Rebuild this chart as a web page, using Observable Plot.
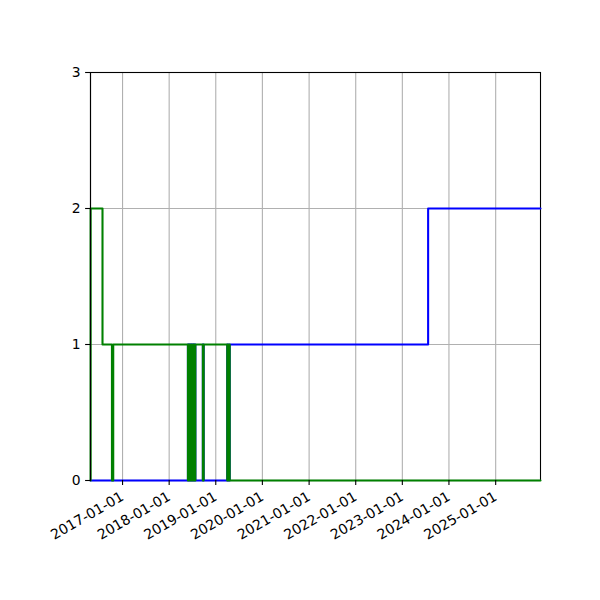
<!DOCTYPE html>
<html>
<head>
<meta charset="utf-8">
<script src="https://cdn.jsdelivr.net/npm/d3@7"></script>
<script src="https://cdn.jsdelivr.net/npm/@observablehq/plot@0.6"></script>
<style>
  html, body { margin: 0; padding: 0; background: #fff; }
  #chart svg { overflow: visible; display: block; }
</style>
</head>
<body>
<div id="chart"></div>
<script>
// ---- data ----
const greenDates = [
  "2016-04-25", "2016-04-26", "2016-07-28", "2016-10-10", "2016-10-20",
  "2018-05-28", "2018-06-03", "2018-06-06", "2018-06-12", "2018-06-16", "2018-06-24",
  "2018-06-28", "2018-07-05", "2018-07-09", "2018-07-14", "2018-07-18", "2018-07-25",
  "2018-09-22", "2018-09-28",
  "2019-04-01", "2019-04-08", "2019-04-20",
  "2025-12-18"
];
const greenValues = [
  0, 2, 1, 0, 1,
  0, 1, 0, 1, 0, 1,
  0, 1, 0, 1, 0, 1,
  0, 1,
  0, 1, 0,
  0
];
const blueDates = [
  "2016-04-25",
  "2018-05-28", "2018-06-03", "2018-06-06", "2018-06-12", "2018-06-16", "2018-06-24",
  "2018-06-28", "2018-07-05", "2018-07-09", "2018-07-14", "2018-07-18", "2018-07-25",
  "2018-09-22", "2018-09-28",
  "2019-04-01", "2019-04-08", "2019-04-20",
  "2023-07-22",
  "2025-12-18"
];
const blueValues = [
  0,
  1, 0, 1, 0, 1, 0,
  1, 0, 1, 0, 1, 0,
  1, 0,
  1, 0, 1,
  2,
  2
];
const xTickLabels = [
  "2017-01-01", "2018-01-01", "2019-01-01", "2020-01-01", "2021-01-01",
  "2022-01-01", "2023-01-01", "2024-01-01", "2025-01-01"
];
const yTicks = [0, 1, 2, 3];

// ---- build tables ----
const parse = d3.utcParse("%Y-%m-%d");
const green = greenDates.map((d, i) => ({date: parse(d), value: greenValues[i]}));
const blue = blueDates.map((d, i) => ({date: parse(d), value: blueValues[i]}));
const xTicks = xTickLabels.map(parse);
const allDates = green.concat(blue).map(d => d.date);

const chart = Plot.plot({
  width: 600,
  height: 600,
  marginLeft: 90,
  marginRight: 60,
  marginTop: 72,
  marginBottom: 120,
  style: {fontFamily: "DejaVu Sans", fontSize: "13.9px", background: "#fff", color: "#000"},
  x: {type: "utc", domain: d3.extent(allDates)},
  y: {domain: [0, 3]},
  marks: [
    Plot.ruleX(xTicks, {stroke: "#b0b0b0", strokeWidth: 1.1}),
    Plot.ruleY(yTicks, {stroke: "#b0b0b0", strokeWidth: 1.1}),
    Plot.frame({stroke: "#000", strokeWidth: 1.1}),
    Plot.line(blue, {x: "date", y: "value", curve: "step-after", stroke: "blue", strokeWidth: 2.08}),
    Plot.line(green, {x: "date", y: "value", curve: "step-after", stroke: "green", strokeWidth: 2.08}),
    Plot.frame({anchor: "left", stroke: "#000", strokeWidth: 1.1}),
    Plot.axisX({ticks: xTicks, tickFormat: d3.utcFormat("%Y-%m-%d"), tickRotate: -30, tickSize: 4.9, tickPadding: 10, fontSize: 14, label: null, stroke: "#000", strokeWidth: 1.1}),
    Plot.axisY({ticks: yTicks, tickFormat: d => String(d), tickSize: 4.9, tickPadding: 4.9, fontSize: 13.9, label: null, stroke: "#000", strokeWidth: 1.1})
  ]
});
document.getElementById("chart").appendChild(chart);
</script>
</body>
</html>
